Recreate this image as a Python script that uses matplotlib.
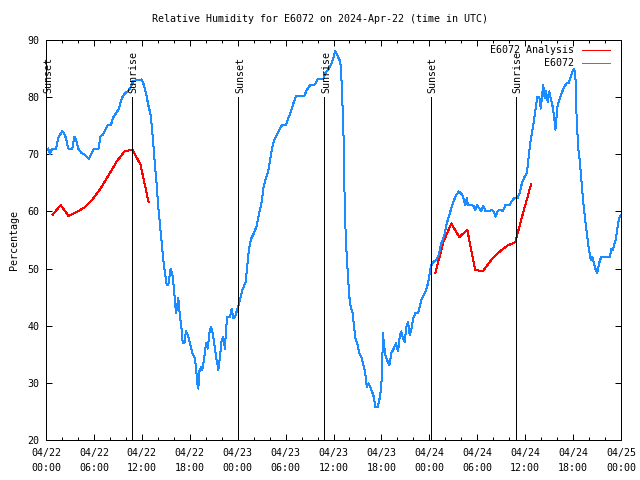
# relative humidity for station E6072, observed vs analysis

import numpy as np
import matplotlib.pyplot as plt
from matplotlib.ticker import MultipleLocator

# hours since 2024-04-22 00:00 UTC
obs_hours = [
    0.25, 0.5, 0.75, 1.25, 1.54, 1.75, 2.04, 2.29, 2.5, 2.79, 3.29, 3.54, 3.76, 4.04,
    4.47, 4.88, 5.35, 5.6, 6.01, 6.6, 6.8, 7.18, 7.48, 7.8, 8.14, 8.43, 8.77, 9.14,
    9.48, 9.89, 10.31, 10.61, 10.93, 11.36, 11.98, 12.27, 12.52, 12.81, 13.11, 13.36,
    13.56, 13.86, 14.06, 14.28, 14.49, 14.69, 14.9, 15.11, 15.31, 15.61, 15.87, 16.07,
    16.28, 16.57, 16.78, 16.99, 17.12, 17.32, 17.53, 17.82, 18.03, 18.32, 18.57, 18.78,
    18.95, 19.07, 19.2, 19.41, 19.57, 19.78, 20.04, 20.25, 20.45, 20.66, 20.87, 21.07,
    21.29, 21.58, 21.79, 22.0, 22.2, 22.41, 22.54, 22.7, 23.04, 23.25, 23.45, 23.67,
    23.88, 24.13, 24.29, 24.58, 25.01, 25.21, 25.42, 25.67, 26.04, 26.38, 26.7, 27.05,
    27.21, 27.46, 27.76, 27.96, 28.17, 28.39, 28.59, 28.89, 29.21, 29.55, 30.05, 30.34,
    30.68, 30.97, 31.3, 32.34, 32.64, 33.06, 33.6, 34.02, 34.72, 34.97, 35.4, 35.81,
    36.02, 36.23, 36.44, 36.85, 36.98, 37.15, 37.32, 37.4, 37.57, 37.69, 37.82, 37.98,
    38.15, 38.4, 38.53, 38.73, 38.98, 39.23, 39.48, 39.69, 39.98, 40.16, 40.41, 40.61,
    40.82, 41.03, 41.23, 41.54, 41.74, 41.95, 42.07, 42.2, 42.32, 42.49, 42.7, 42.99,
    43.24, 43.54, 43.83, 44.08, 44.29, 44.49, 44.7, 44.92, 45.12, 45.33, 45.54, 45.74,
    45.99, 46.24, 46.58, 46.8, 47.0, 47.3, 47.5, 47.83, 48.12, 48.25, 48.55, 48.87,
    49.17, 49.5, 49.84, 50.13, 50.43, 50.75, 51.09, 51.38, 51.68, 52.0, 52.21, 52.5,
    52.68, 52.84, 53.26, 53.51, 53.76, 54.01, 54.26, 54.51, 54.76, 55.01, 55.56, 55.85,
    56.1, 56.31, 56.51, 56.81, 57.23, 57.51, 58.06, 58.27, 58.6, 59.02, 59.32, 59.6,
    59.94, 60.23, 60.44, 60.69, 60.89, 61.11, 61.32, 61.52, 61.77, 61.95, 62.15, 62.27,
    62.45, 62.61, 62.82, 63.02, 63.24, 63.45, 63.65, 63.78, 63.9, 64.03, 64.28, 64.58,
    64.86, 65.2, 65.45, 65.7, 65.95, 66.12, 66.28, 66.45, 66.65, 66.87, 67.08, 67.28,
    67.53, 67.78, 67.99, 68.21, 68.41, 68.62, 68.83, 69.03, 69.25, 69.53, 70.62, 70.79,
    70.96, 71.13, 71.34, 71.53, 71.74, 71.96,
]
obs_rh = [
    71.0, 70.0, 71.0, 71.0, 72.8, 73.4, 74.1, 73.6, 72.8, 71.0, 71.0, 73.1, 72.5, 71.0,
    70.2, 69.9, 69.2, 69.9, 71.0, 71.0, 73.1, 73.5, 74.5, 75.2, 75.2, 76.5, 77.2, 78.0,
    79.8, 80.7, 81.1, 81.8, 82.8, 83.0, 83.1, 82.1, 80.7, 78.6, 76.9, 73.1,
    69.6, 64.6, 60.8, 57.5, 54.4, 51.5, 49.2, 47.1, 47.1, 50.0, 48.6, 45.7,
    42.2, 44.8, 41.6, 39.3, 36.9, 36.9, 39.0, 38.1, 36.9, 35.2, 34.6, 32.8,
    29.9, 29.0, 32.0, 32.8, 32.3, 34.0, 36.9, 36.0, 38.7, 39.8, 38.7, 36.9,
    34.6, 32.3, 34.6, 37.5, 38.1, 36.0, 39.3, 41.6, 41.6, 43.0, 41.3, 41.6,
    42.5, 43.6, 44.5, 46.2, 47.7, 50.5, 53.5, 55.2, 56.2, 57.5, 59.7, 62.0,
    64.0, 65.5, 66.7, 68.1, 69.9, 71.6, 72.5, 73.4, 74.3, 75.1, 75.1, 76.3,
    77.5, 78.9, 80.2, 80.2, 81.2, 82.1, 82.1, 83.1, 83.1, 84.2, 85.0, 86.0,
    87.1, 88.1, 87.4, 86.2, 83.6, 77.8, 70.2, 60.8, 54.4, 51.5, 48.3, 45.1,
    43.3, 42.2, 40.4, 37.8, 36.9, 35.2, 34.6, 33.4, 31.7, 29.3, 29.9, 29.3,
    28.5, 27.6, 25.8, 25.8, 27.0, 28.8, 31.7, 38.7, 36.6, 34.9, 34.0, 33.1,
    35.2, 36.0, 36.9, 35.5, 38.1, 39.0, 37.8, 37.2, 39.8, 40.7, 38.4, 39.3,
    41.3, 42.2, 42.2, 43.3, 44.5, 45.4, 45.9, 47.4, 49.8, 50.6, 51.2, 51.5,
    52.4, 54.4, 55.6, 57.6, 59.1, 60.5, 62.0, 62.9, 63.5, 63.1, 62.6, 61.1,
    62.3, 61.1, 61.1, 61.0, 60.3, 61.1, 60.5, 60.1, 61.0, 60.1, 60.1, 60.3,
    59.8, 59.1, 60.0, 60.3, 60.1, 61.1, 61.1, 61.7, 62.3, 62.3, 63.2, 65.0,
    66.1, 66.8, 69.6, 72.5, 74.0, 76.0, 78.0, 80.1, 80.1, 78.0, 80.7, 82.1,
    79.8, 81.0, 79.2, 81.0, 79.5, 78.3, 76.3, 74.3, 76.0, 78.3, 79.5, 80.7,
    81.8, 82.4, 82.4, 83.6, 84.5, 85.0, 84.2, 76.0, 71.0, 68.4, 64.9, 61.5,
    58.3, 55.6, 53.3, 51.5, 52.1, 50.9, 49.8, 49.2, 50.9, 52.1, 52.1, 53.5,
    53.2, 54.1, 55.0, 56.8, 58.8, 59.4,
]

# analysis, hourly, two runs
ana1_hours = [0.83 + i for i in range(13)]
ana1_rh = [59.4, 61.1, 59.2, 59.9, 60.7, 62.1, 64.0, 66.3, 68.7, 70.5, 70.8, 68.2, 61.7]
ana2_hours = [48.75 + i for i in range(13)]
ana2_rh = [49.2, 54.6, 57.9, 55.5, 56.8, 49.7, 49.6, 51.5, 52.9, 54.0, 54.6, 59.8, 64.8]

sun_hours = [0.05, 10.8, 24.08, 34.85, 48.15, 58.8]
sun_names = ["Sunset", "Sunrise", "Sunset", "Sunrise", "Sunset", "Sunrise"]

tick_hours = np.arange(0, 73, 6)
tick_labels = ["04/22\n00:00", "04/22\n06:00", "04/22\n12:00", "04/22\n18:00",
               "04/23\n00:00", "04/23\n06:00", "04/23\n12:00", "04/23\n18:00",
               "04/24\n00:00", "04/24\n06:00", "04/24\n12:00", "04/24\n18:00",
               "04/25\n00:00"]

RED = "#ff0000"
BLUE = "#1a8cff"
LW = 0.72  # one pixel

plt.rcParams["font.family"] = "DejaVu Sans Mono"
plt.rcParams["font.size"] = 7.2

fig = plt.figure(figsize=(6.4, 4.8), dpi=100)
ax = fig.add_axes([46 / 640, 40 / 480, 575 / 640, 400 / 480])

ax.plot(ana1_hours, ana1_rh, color=RED, lw=LW, antialiased=False)
ax.plot(ana2_hours, ana2_rh, color=RED, lw=LW, antialiased=False)
ax.plot(obs_hours, obs_rh, color=BLUE, lw=LW, antialiased=False)

# sunrise / sunset markers
for t, name in zip(sun_hours, sun_names):
    ax.plot([t, t], [20, 80], color="black", lw=LW, antialiased=False)
    ax.text(t + 0.2, 80.8, name, rotation=90, ha="center", va="bottom")

# legend drawn by hand, right-aligned like gnuplot
leg = [("E6072 Analysis", RED, 0.975), ("E6072", BLUE, 0.9425)]
for label, col, yy in leg:
    ax.text(0.918, yy, label, transform=ax.transAxes, ha="right", va="center")
    ax.plot([0.932, 0.981], [yy, yy], transform=ax.transAxes, color=col,
            lw=LW, antialiased=False)

ax.set_xlim(0, 72)
ax.set_ylim(20, 90)
ax.set_xticks(tick_hours)
ax.set_xticklabels(tick_labels, linespacing=1.6)
ax.xaxis.set_minor_locator(MultipleLocator(2))
ax.yaxis.set_major_locator(MultipleLocator(10))
ax.tick_params(which="both", direction="in", top=True, right=True, width=LW)
ax.tick_params(which="major", length=4.5)
ax.tick_params(which="minor", length=2.5)
ax.tick_params(axis="x", pad=6)
ax.tick_params(axis="y", pad=4.5)
for s in ax.spines.values():
    s.set_linewidth(LW)

ax.set_ylabel("Percentage", labelpad=6)
fig.text(0.5, 1 - 19 / 480, "Relative Humidity for E6072 on 2024-Apr-22 (time in UTC)",
         ha="center", va="center")

plt.savefig("out.png", dpi=100)
